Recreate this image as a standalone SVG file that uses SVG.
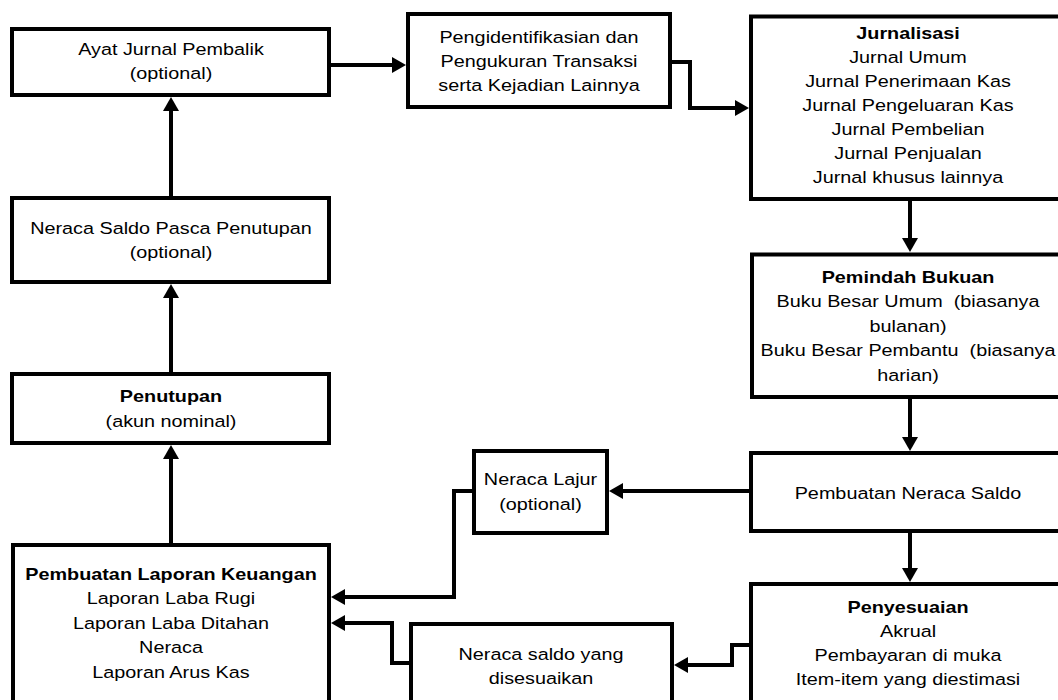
<svg xmlns="http://www.w3.org/2000/svg" width="1058" height="700" viewBox="0 0 1058 700">
<style>
.box{fill:#fff;stroke:#000;stroke-width:4}
.t{font-family:"Liberation Sans",Arial,sans-serif;font-size:16.5px;fill:#000;text-anchor:middle}
.b{font-weight:bold}
.c{fill:none;stroke:#000;stroke-width:4;marker-end:url(#ah)}
</style>
<defs>
<marker id="ah" viewBox="0 0 14 16" refX="4" refY="8" markerWidth="14" markerHeight="16" markerUnits="userSpaceOnUse" orient="auto">
<path d="M0,0 L14,8 L0,16 Z" fill="#000"/>
</marker>
</defs>
<rect width="1058" height="700" fill="#fff"/>
<g id="connectors">
<path class="c" d="M331,65 H396"/>
<path class="c" d="M670,62 H690 V108 H739"/>
<path class="c" d="M910,199 V242"/>
<path class="c" d="M910,397 V441"/>
<path class="c" d="M751,491 H619"/>
<path class="c" d="M474,491 H454 V597 H341"/>
<path class="c" d="M910,531 V572"/>
<path class="c" d="M751,645 H732 V665 H684"/>
<path class="c" d="M411,663 H392 V623 H341"/>
<path class="c" d="M171,545 V455"/>
<path class="c" d="M171,374 V294"/>
<path class="c" d="M171,198 V107"/>
</g>
<g id="ayat-jurnal-pembalik">
<rect class="box" x="12" y="29" width="317" height="66"/>
<text class="t" transform="translate(171 0) scale(1.2 1)"><tspan x="0" y="55">Ayat Jurnal Pembalik</tspan><tspan x="0" y="79">(optional)</tspan></text>
</g>
<g id="pengidentifikasian">
<rect class="box" x="408" y="14" width="262" height="93"/>
<text class="t" transform="translate(539 0) scale(1.2 1)"><tspan x="0" y="43">Pengidentifikasian dan</tspan><tspan x="0" y="67">Pengukuran Transaksi</tspan><tspan x="0" y="91">serta Kejadian Lainnya</tspan></text>
</g>
<g id="jurnalisasi">
<rect class="box" x="751" y="16.5" width="314" height="182.5"/>
<text class="t" transform="translate(908 0) scale(1.2 1)"><tspan class="b" x="0" y="39.5">Jurnalisasi</tspan><tspan x="0" y="63.5">Jurnal Umum</tspan><tspan x="0" y="87.5">Jurnal Penerimaan Kas</tspan><tspan x="0" y="111.5">Jurnal Pengeluaran Kas</tspan><tspan x="0" y="135.5">Jurnal Pembelian</tspan><tspan x="0" y="159.5">Jurnal Penjualan</tspan><tspan x="0" y="183.5">Jurnal khusus lainnya</tspan></text>
</g>
<g id="pemindah-bukuan">
<rect class="box" x="752" y="254.5" width="314" height="142.5"/>
<text class="t" transform="translate(908 0) scale(1.2 1)"><tspan class="b" x="0" y="283">Pemindah Bukuan</tspan><tspan x="0" y="307.5">Buku Besar Umum&#160; (biasanya</tspan><tspan x="0" y="332">bulanan)</tspan><tspan x="0" y="356.5">Buku Besar Pembantu&#160; (biasanya</tspan><tspan x="0" y="381">harian)</tspan></text>
</g>
<g id="pembuatan-neraca-saldo">
<rect class="box" x="751" y="453" width="314" height="78"/>
<text class="t" transform="translate(908 0) scale(1.2 1)"><tspan x="0" y="499">Pembuatan Neraca Saldo</tspan></text>
</g>
<g id="penyesuaian">
<rect class="box" x="751" y="584" width="314" height="130"/>
<text class="t" transform="translate(908 0) scale(1.2 1)"><tspan class="b" x="0" y="613">Penyesuaian</tspan><tspan x="0" y="637">Akrual</tspan><tspan x="0" y="661">Pembayaran di muka</tspan><tspan x="0" y="685">Item-item yang diestimasi</tspan></text>
</g>
<g id="neraca-saldo-disesuaikan">
<rect class="box" x="411" y="624" width="261" height="90"/>
<text class="t" transform="translate(541 0) scale(1.2 1)"><tspan x="0" y="660">Neraca saldo yang</tspan><tspan x="0" y="684">disesuaikan</tspan></text>
</g>
<g id="neraca-lajur">
<rect class="box" x="474" y="451" width="133" height="82"/>
<text class="t" transform="translate(540.5 0) scale(1.2 1)"><tspan x="0" y="485">Neraca Lajur</tspan><tspan x="0" y="510">(optional)</tspan></text>
</g>
<g id="laporan-keuangan">
<rect class="box" x="13" y="545" width="316" height="170"/>
<text class="t" transform="translate(171 0) scale(1.2 1)"><tspan class="b" x="0" y="580">Pembuatan Laporan Keuangan</tspan><tspan x="0" y="604.5">Laporan Laba Rugi</tspan><tspan x="0" y="629">Laporan Laba Ditahan</tspan><tspan x="0" y="653.5">Neraca</tspan><tspan x="0" y="678">Laporan Arus Kas</tspan></text>
</g>
<g id="penutupan">
<rect class="box" x="12" y="374" width="317" height="69"/>
<text class="t" transform="translate(171 0) scale(1.2 1)"><tspan class="b" x="0" y="402">Penutupan</tspan><tspan x="0" y="427">(akun nominal)</tspan></text>
</g>
<g id="neraca-saldo-pasca-penutupan">
<rect class="box" x="12" y="198" width="317" height="84"/>
<text class="t" transform="translate(171 0) scale(1.2 1)"><tspan x="0" y="234">Neraca Saldo Pasca Penutupan</tspan><tspan x="0" y="258">(optional)</tspan></text>
</g>
</svg>
